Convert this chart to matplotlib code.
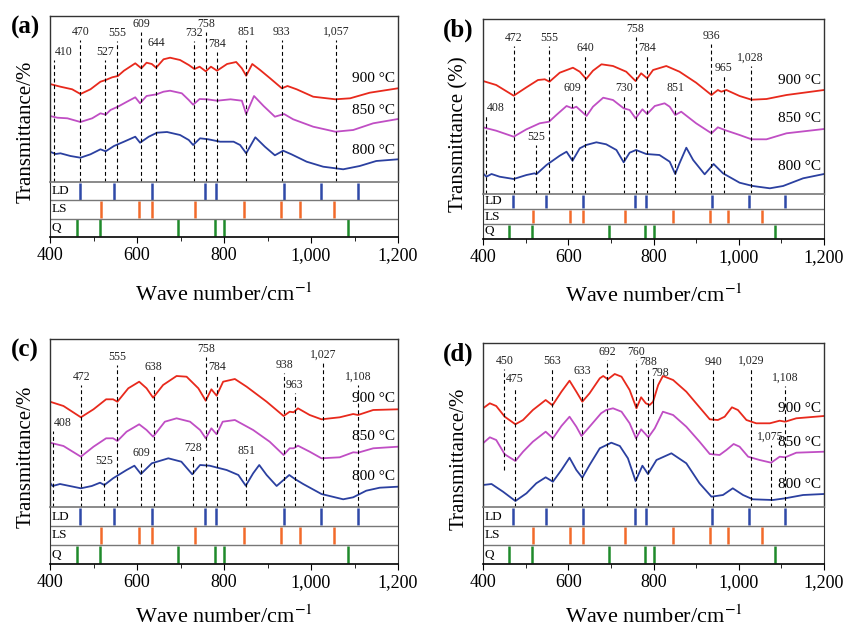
import matplotlib
matplotlib.use("Agg")
import matplotlib.pyplot as plt
import matplotlib.ticker as mticker

plt.rcParams['font.family'] = ['Liberation Serif', 'DejaVu Serif']
plt.rcParams['mathtext.fontset'] = 'stix'

# reference bands (cm-1) shown in the LD / LS / Q strips
ld_bands = [470, 548, 635, 756, 782, 937, 1023, 1109]
ls_bands = [518, 604, 635, 734, 846, 932, 974, 1054]
q_bands = [461, 514, 695, 780, 801, 1085]

temps = ["900 °C", "850 °C", "800 °C"]
colors = ["#e8291c", "#c04ec4", "#2b40a0"]

# ---------- panel (a) : (wave number, transmittance a.u.) ----------
a_900 = [(400, 98), (424, 95.3), (451, 92.7), (470, 88), (493, 92.7), (516, 100.3), (528, 102),
         (543, 104.7), (556, 106), (570, 111.3), (596, 118.7), (610, 113.7), (622, 119.3), (634, 118),
         (644, 114.3), (661, 122.7), (676, 124.3), (699, 122), (719, 117), (732, 113), (744, 115.3),
         (758, 110.7), (770, 115.3), (784, 111.3), (807, 118), (828, 120), (841, 113.7), (851, 106.3),
         (865, 118), (883, 112), (906, 103.7), (933, 93.7), (946, 96), (967, 92.7), (1005, 85.3),
         (1056, 82.7), (1090, 83.7), (1135, 89.3), (1200, 93.7)]
a_850 = [(400, 66), (417, 64.3), (440, 63.7), (470, 60), (497, 63.7), (516, 68.7), (528, 67.3),
         (539, 72), (556, 75.3), (577, 80.3), (596, 84.7), (607, 78.7), (622, 86), (645, 87.7),
         (661, 90.3), (676, 91.3), (703, 88.7), (719, 82), (729, 77.3), (744, 83), (761, 82.7),
         (784, 81.3), (815, 82.7), (841, 81.3), (851, 68), (869, 86), (891, 76), (917, 65.3),
         (938, 68), (959, 62.7), (1005, 55.3), (1056, 50.3), (1097, 52), (1143, 58.7), (1200, 63)]
a_800 = [(400, 30.3), (413, 28), (424, 28.7), (447, 26), (470, 24.3), (493, 27.7), (516, 32.7),
         (528, 30.7), (547, 36), (570, 40.3), (596, 45.3), (607, 39.3), (627, 45.3), (646, 49.3),
         (669, 50), (699, 47), (719, 42), (729, 37), (745, 43.7), (764, 42.7), (791, 40.3), (822, 40.3),
         (837, 37), (851, 28.7), (872, 44.7), (894, 35.3), (917, 26.7), (936, 31.3), (955, 27.7),
         (990, 20.3), (1028, 15.3), (1074, 12.7), (1112, 16), (1150, 21), (1200, 22.7)]
a_peaks = [(410, 130), (470, 150), (527, 130), (555, 149), (609, 158), (644, 139), (732, 149),
           (758, 158), (784, 138), (851, 150), (933, 150), (1057, 150)]
a_temp_y = [103, 72, 32]

# ---------- panel (b) ----------
b_900 = [(400, 113), (431, 109), (472, 98.3), (502, 106.7), (529, 114), (545, 114.7), (556, 112.3),
         (580, 121.3), (611, 126.3), (627, 122.3), (642, 115), (658, 123.3), (678, 129.7), (705, 128),
         (736, 122.3), (758, 113), (771, 120.7), (785, 115.7), (799, 124), (830, 128), (861, 122.3),
         (900, 111.3), (936, 99), (951, 104), (959, 102.3), (971, 104), (1002, 98), (1030, 94.3),
         (1065, 95), (1112, 99), (1200, 104)]
b_850 = [(400, 66.7), (431, 63.3), (472, 57.3), (502, 64.7), (533, 70.7), (555, 72.3), (572, 79),
         (596, 88), (610, 85.7), (619, 87.3), (643, 78), (658, 87.3), (682, 96.3), (705, 94),
         (730, 85.7), (744, 84), (758, 75.7), (774, 84.7), (785, 80), (803, 88), (826, 90.7),
         (838, 87.3), (851, 79), (865, 82.3), (900, 70.7), (936, 60.7), (951, 66.7), (967, 64),
         (1002, 59), (1030, 54.7), (1065, 54.7), (1112, 60.7), (1200, 65)]
b_800 = [(400, 20.7), (408, 17.3), (420, 20), (439, 17.3), (472, 15), (502, 19), (521, 20.7),
         (525, 19.7), (549, 29), (580, 38.3), (596, 42.3), (610, 33.3), (627, 45.7), (642, 49),
         (666, 51.7), (689, 49.7), (713, 44), (730, 31.7), (744, 41.3), (759, 44), (783, 40),
         (814, 39), (838, 32.3), (851, 20), (861, 30.7), (877, 46.3), (893, 34), (920, 19.7),
         (941, 30), (963, 20.7), (1002, 11.3), (1033, 8), (1073, 5.7), (1104, 8), (1151, 15.7),
         (1200, 20)]
b_peaks = [(408, 86), (472, 156), (525, 57), (555, 156), (609, 106), (640, 146), (730, 106),
           (758, 165), (784, 146), (851, 106), (936, 158), (965, 126), (1028, 136)]
b_temp_y = [113, 75, 27]

# ---------- panel (c) ----------
c_900 = [(400, 105.3), (431, 101), (471, 89.7), (500, 97.7), (529, 107.7), (545, 107.7), (555, 105.3),
         (580, 118.7), (605, 125.3), (622, 118.7), (637, 109.3), (660, 122), (691, 131), (714, 130.3),
         (741, 118.7), (758, 106.3), (771, 117.7), (783, 111.3), (798, 125.3), (825, 128), (852, 120.3),
         (898, 105.3), (937, 91), (951, 95.3), (960, 94.7), (970, 98.7), (997, 92), (1024, 87.7),
         (1066, 89.7), (1097, 93), (1108, 92), (1143, 97), (1200, 97.7)]
c_850 = [(400, 64.3), (431, 61), (471, 50.3), (500, 60.3), (529, 68.7), (545, 68.7), (555, 66),
         (576, 75.3), (605, 82.7), (622, 77), (637, 70.3), (664, 85.3), (691, 88.7), (722, 85.3),
         (745, 77), (758, 68.7), (771, 78.7), (783, 72.7), (797, 85.3), (825, 87), (867, 77),
         (905, 65.3), (937, 52), (951, 58.7), (960, 58.7), (970, 61.3), (997, 55.3), (1024, 48.7),
         (1066, 49.7), (1097, 54.7), (1108, 54.3), (1143, 58.7), (1200, 60.3)]
c_800 = [(400, 24.3), (406, 21), (423, 23), (471, 18.7), (496, 21), (515, 24.3), (525, 22),
         (545, 28.7), (576, 37), (594, 41.3), (609, 33), (634, 43.7), (672, 48.7), (702, 45.3),
         (727, 32.7), (745, 42), (767, 41.3), (806, 37), (833, 32), (850, 21.3), (867, 33.7),
         (881, 42), (898, 32), (921, 21), (950, 32), (963, 28), (982, 23), (1024, 13), (1074, 7.7),
         (1097, 9.7), (1127, 16.3), (1158, 19.3), (1200, 20.3)]
c_peaks = [(408, 84), (472, 130), (525, 46), (555, 150), (609, 54), (638, 140), (728, 59),
           (758, 158), (784, 140), (851, 56), (938, 142), (963, 122), (1027, 152), (1108, 130)]
c_temp_y = [109, 70, 31]

# ---------- panel (d) ----------
d_900 = [(400, 98.7), (416, 103.7), (431, 101), (451, 90.3), (476, 82.7), (494, 87), (517, 97),
         (547, 107), (563, 101.7), (584, 115.3), (603, 126.3), (619, 115.3), (633, 105.3), (650, 113.7),
         (674, 128.7), (682, 131), (693, 127.7), (709, 133), (725, 130.3), (744, 117), (760, 98.7),
         (771, 109.7), (782, 103.7), (791, 102), (799, 105.3), (811, 122), (822, 131), (846, 127),
         (877, 115.3), (908, 99.7), (932, 87.7), (951, 87), (967, 90.3), (984, 99.7), (998, 97),
         (1018, 87), (1041, 83.7), (1073, 83.7), (1096, 86.3), (1109, 85.3), (1135, 88.7), (1200, 91)]
d_850 = [(400, 63.7), (416, 69.7), (431, 67), (451, 52.7), (476, 46), (494, 55.3), (517, 65.3),
         (547, 75.3), (564, 68.7), (584, 81), (603, 90.3), (619, 80.3), (631, 71), (650, 80.3),
         (677, 93.7), (689, 97), (705, 98.7), (725, 95.3), (744, 83.7), (759, 68.7), (771, 77.7),
         (788, 69.7), (803, 78.7), (822, 95.3), (846, 92), (877, 80.3), (908, 65.3), (932, 53),
         (955, 52), (971, 57), (988, 63), (1002, 60.3), (1022, 50.3), (1049, 47), (1076, 44.3),
         (1096, 50.3), (1109, 49.7), (1135, 54.3), (1200, 55.3)]
d_800 = [(400, 22), (420, 23), (447, 15.3), (476, 6), (502, 13.7), (525, 23.7), (547, 29.7),
         (564, 25.3), (584, 37), (603, 49.3), (619, 37), (633, 29.3), (650, 42), (674, 58.7),
         (701, 64.3), (721, 61), (740, 48.7), (758, 26), (774, 41.3), (787, 33), (807, 47),
         (842, 53.7), (877, 43.7), (908, 23.7), (936, 10.3), (963, 12), (986, 18.7), (1010, 12),
         (1033, 7.7), (1080, 7), (1109, 8.7), (1151, 12), (1200, 13)]
d_peaks = [(450, 146), (475, 128), (563, 146), (633, 136), (692, 155), (760, 155), (788, 145),
           (940, 145), (1029, 146), (1108, 129), (1075, 70)]
d_temp_y = [99, 64, 22]

fig = plt.figure(figsize=(8.49, 6.30), dpi=100)
W, H = 849.0, 630.0


def box(left, right, top, bottom):
    return [left / W, 1 - bottom / H, (right - left) / W, (bottom - top) / H]


def fmt(v):
    return f"{v:,}"


def panel(left, right, top, mid, bottom, curves, peaks, temp_y, letter, ylab, xlab_gap,
          short=None, solid=None):
    ax = fig.add_axes(box(left, right, top, mid))
    st = fig.add_axes(box(left, right, mid, bottom), sharex=ax)
    hmax = mid - top

    # spectra
    for data, c in zip(curves, colors):
        xs, ys = zip(*data)
        ax.plot(xs, ys, color=c, lw=1.3)
    for t, y in zip(temps, temp_y):
        ax.text(1193, y, t, ha='right', va='center', fontsize=11)

    # peak markers
    for v, y in peaks:
        y0 = 0
        if short is not None and v == short[0]:
            y0 = short[1]
        ax.plot([v, v], [y0, y - 8], color='black', ls=(0, (3.5, 2.5)), lw=0.8)
        ha = 'left' if v < 420 else 'center'
        ax.text(v, y, fmt(v), ha=ha, va='center', fontsize=8.5, color='#222222')
    if solid is not None:
        v, y, y0 = solid
        ax.plot([v, v], [y0, y - 6], color='black', lw=0.8)
        ax.text(v - 3, y, fmt(v), ha='left', va='center', fontsize=8.5, color='#222222')

    ax.set_xlim(400, 1200)
    ax.set_ylim(0, hmax)
    ax.set_yticks([])
    ax.tick_params(axis='x', which='both', bottom=False, labelbottom=False)
    ax.spines['bottom'].set_visible(False)
    for s in ['top', 'left', 'right']:
        ax.spines[s].set_color('#333333')
        ax.spines[s].set_linewidth(1.0)

    # reference strips
    rows = [(ld_bands, "#2f49a8", "LD", 2), (ls_bands, "#f26a2a", "LS", 1), (q_bands, "#1f8a2b", "Q", 0)]
    for bands, c, name, y0 in rows:
        for b in bands:
            st.plot([b, b], [y0 + 0.04, y0 + 0.96], color=c, lw=1.8, solid_capstyle='butt')
        st.text(403, y0 + 0.5, name, ha='left', va='center', fontsize=9.5)
    for y in [1, 2]:
        st.axhline(y, color='#777777', lw=1.0)
    st.set_ylim(0, 3)
    st.set_yticks([])
    st.spines['top'].set_color('#777777')
    st.spines['top'].set_linewidth(1.2)
    st.spines['bottom'].set_linewidth(1.2)
    for s in ['left', 'right']:
        st.spines[s].set_color('#333333')
    st.set_xticks([400, 600, 800, 1000, 1200])
    st.xaxis.set_minor_locator(mticker.MultipleLocator(100))
    st.xaxis.set_major_formatter(mticker.FuncFormatter(lambda v, p: fmt(int(v))))
    st.tick_params(axis='x', which='major', direction='out', length=4, labelsize=13, pad=3)
    st.tick_params(axis='x', which='minor', direction='out', length=3)

    cx = (left + right) / 2
    fig.text(cx / W, 1 - (bottom + xlab_gap) / H, "Wave number/cm$^{-1}$", ha='center', va='center',
             fontsize=16)
    fig.text((left - 24) / W, 1 - ((top + bottom) / 2 + 5) / H, ylab, rotation=90,
             ha='center', va='center', fontsize=15)
    fig.text((left - 25) / W, 1 - (top + 11) / H, letter, ha='center', va='center',
             fontsize=18, fontweight='bold')


panel(50, 398, 16, 182, 237, [a_900, a_850, a_800], a_peaks, a_temp_y, "(a)", "Transmittance/%", 58)
panel(483, 824, 19, 194, 239, [b_900, b_850, b_800], b_peaks, b_temp_y, "(b)", "Transmittance (%)", 57)
panel(50, 398, 339, 507, 564, [c_900, c_850, c_800], c_peaks, c_temp_y, "(c)", "Transmittance/%", 53)
panel(483, 824, 343, 507, 564, [d_900, d_850, d_800], d_peaks, d_temp_y, "(d)", "Transmittance/%", 53,
      short=(450, 37), solid=(798, 134, 94))

fig.savefig("out.png", dpi=100)
